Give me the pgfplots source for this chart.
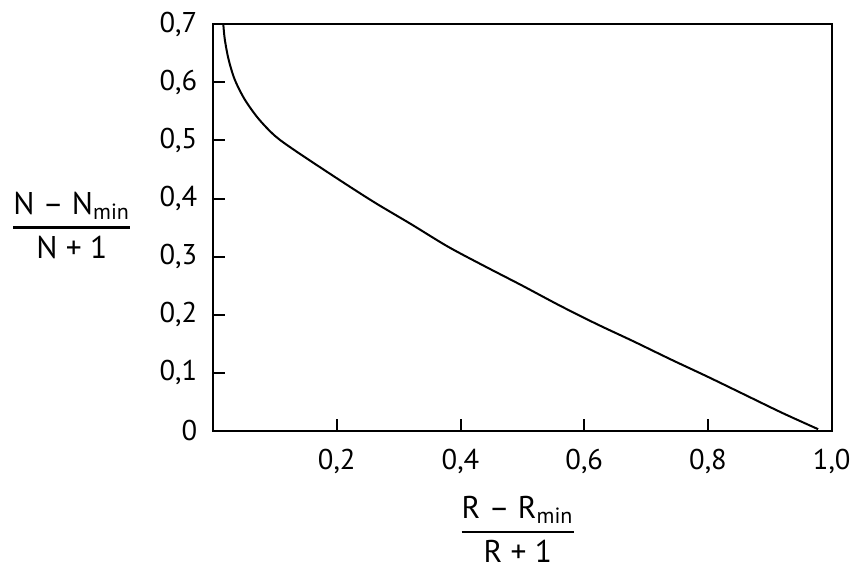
\documentclass[border=0pt]{standalone}
\usepackage{fontspec}
\setmainfont{PT Sans}
\usepackage{amsmath}
\usepackage{pgfplots}
\pgfplotsset{compat=1.18}
\usetikzlibrary{calc}

\newcommand{\labfrac}[2]{$\genfrac{}{}{0.8pt}{0}{\text{#1}}{\text{#2}}$}

\begin{document}
\begin{tikzpicture}
\begin{axis}[
  scale only axis,
  width=216.5pt, height=142.3pt,
  xmin=0, xmax=1, ymin=0, ymax=0.7,
  xtick={0.2,0.4,0.6,0.8,1.0},
  xticklabels={{0,2},{0,4},{0,6},{0,8},{1,0}},
  ytick={0,0.1,0.2,0.3,0.4,0.5,0.6,0.7},
  yticklabels={0,{0,1},{0,2},{0,3},{0,4},{0,5},{0,6},{0,7}},
  tick align=inside, xtick pos=bottom, ytick pos=left,
  major tick length=4.3pt,
  tick style={black, line width=0.7pt},
  axis line style={line width=0.7pt},
  ticklabel style={font=\fontsize{10}{12}\selectfont},
  xticklabel style={yshift=-3pt},
  yticklabel style={xshift=-2pt},
]
\addplot[black, line width=0.7pt, smooth] coordinates {
  (0.0166,0.700) (0.019,0.674) (0.025,0.640) (0.035,0.605)
  (0.051,0.571) (0.073,0.538) (0.100,0.508) (0.132,0.483)
  (0.200,0.435) (0.260,0.394) (0.320,0.356) (0.380,0.317)
  (0.440,0.283) (0.500,0.250) (0.560,0.216) (0.620,0.184)
  (0.680,0.154) (0.740,0.123) (0.800,0.093) (0.860,0.062)
  (0.920,0.031) (0.978,0.003)
};
\coordinate (SW) at (rel axis cs:0,0);
\coordinate (NE) at (rel axis cs:1,1);
\end{axis}
\node[font=\fontsize{11}{13}\selectfont, anchor=base] at ($(SW)!0.5!(SW|-NE)+(-49.4pt,-2.75pt)$)
  {\labfrac{N – N\textsubscript{min}}{N + 1}};
\node[font=\fontsize{11}{13}\selectfont, anchor=base] at ($(SW)!0.5!(NE|-SW)+(-1.6pt,-38.1pt)$)
  {\labfrac{R – R\textsubscript{min}}{R + 1}};
\pgfresetboundingbox
\path[use as bounding box] ([xshift=-74.55pt,yshift=-47.25pt]SW) rectangle ([xshift=7.8pt,yshift=8.5pt]NE);
\end{tikzpicture}
\end{document}
